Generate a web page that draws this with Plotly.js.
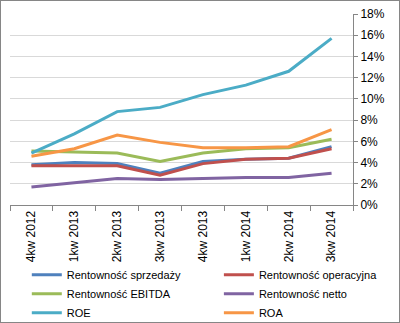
<!DOCTYPE html>
<html><head><meta charset="utf-8">
<script src="https://cdn.plot.ly/plotly-3.0.1.min.js"></script>
<style>html,body{margin:0;padding:0;background:#fff}#c{width:398px;height:321px;border:1px solid #868686}</style>
</head><body><div id="c"></div>
<script>
const categories = ['4kw 2012','1kw 2013','2kw 2013','3kw 2013','4kw 2013','1kw 2014','2kw 2014','3kw 2014'];
const sprzedazy = [3.8, 4.0, 3.9, 3.0, 4.1, 4.3, 4.4, 5.5];
const operacyjna = [3.7, 3.7, 3.7, 2.8, 3.9, 4.3, 4.4, 5.3];
const ebitda = [5.1, 5.0, 4.9, 4.1, 4.9, 5.3, 5.4, 6.2];
const netto = [1.7, 2.1, 2.5, 2.4, 2.5, 2.6, 2.6, 3.0];
const roe = [4.9, 6.7, 8.8, 9.2, 10.4, 11.3, 12.6, 15.7];
const roa = [4.6, 5.3, 6.6, 5.9, 5.4, 5.4, 5.5, 7.1];
const names = ['Rentowność sprzedaży','Rentowność operacyjna','Rentowność EBITDA','Rentowność netto','ROE','ROA'];
const colors = ['#4F81BD','#C0504D','#9BBB59','#8064A2','#4BACC6','#F79646'];
const legendOf = ['legend','legend2','legend','legend2','legend','legend2'];
const series = [sprzedazy, operacyjna, ebitda, netto, roe, roa];
const data = series.map((s,i)=>({x:categories,y:s.map(v=>v/100),name:names[i],type:'scatter',mode:'lines',legend:legendOf[i],line:{color:colors[i],width:3}}));
const font = {family:'Liberation Sans, Arial, sans-serif', size:12, color:'#000'};
const legFont = {family:'Liberation Sans, Arial, sans-serif', size:11, color:'#000'};
const legBase = {orientation:'v', xanchor:'left', yanchor:'top', yref:'container', xref:'paper', y:0.192, tracegroupgap:0, font:legFont, itemwidth:30, bgcolor:'rgba(0,0,0,0)'};
Plotly.newPlot('c', data, {
  width:398, height:321,
  margin:{l:9,r:46,t:13,b:117},
  paper_bgcolor:'#fff', plot_bgcolor:'#fff',
  font:font,
  showlegend:true,
  legend:Object.assign({x:0.049}, legBase),
  legend2:Object.assign({x:0.609}, legBase),
  xaxis:{type:'category', tickangle:-90, showgrid:false, showline:true, linecolor:'#868686', ticks:'outside', ticklen:5, tickcolor:'#868686', tickson:'boundaries', tickfont:font, range:[-0.5,7.5], automargin:false},
  yaxis:{side:'right', range:[0,0.18], dtick:0.02, tickformat:'.0%', showgrid:true, gridcolor:'#D9D9D9', showline:true, linecolor:'#868686', ticks:'outside', ticklen:4, tickcolor:'#868686', tickfont:font, zeroline:false, automargin:false}
}, {displayModeBar:false, staticPlot:true});
</script></body></html>
